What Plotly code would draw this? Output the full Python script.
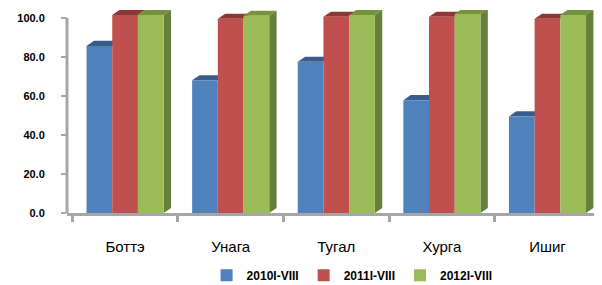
import plotly.graph_objects as go

categories = ["Боттэ", "Унага", "Тугал", "Хурга", "Ишиг"]
series_names = ["2010I-VIII", "2011I-VIII", "2012I-VIII"]
v2010 = [85.6, 68.0, 77.5, 57.8, 49.5]
v2011 = [101.5, 99.5, 100.5, 100.5, 99.5]
v2012 = [101.5, 101.0, 101.5, 102.0, 101.5]
y_ticks = [0, 20, 40, 60, 80, 100]

front = ["#4F81BD", "#C0504D", "#9BBB59"]
top_c = ["#385D8A", "#8C3836", "#76923C"]
side_c = ["#2E4D73", "#772C2A", "#65803A"]

series = [v2010, v2011, v2012]
bargap = 0.27
bw = (1 - bargap) / 3
dx, dy = 0.07, 2.6

fig = go.Figure()
for name, vals, col in zip(series_names, series, front):
    fig.add_trace(go.Bar(x=list(range(len(categories))), y=vals, name=name,
                         marker=dict(color=col, line=dict(width=0))))

shapes = []
for si, vals in enumerate(series):
    for ci, v in enumerate(vals):
        x0 = ci + (si - 1) * bw - bw / 2
        x1 = x0 + bw
        shapes.append(dict(type="path", layer="below", xref="x", yref="y",
                           path=f"M{x0},{v} L{x1},{v} L{x1+dx},{v+dy} L{x0+dx},{v+dy} Z",
                           fillcolor=top_c[si], line=dict(width=0)))
        if si == 2:
            shapes.append(dict(type="path", layer="below", xref="x", yref="y",
                               path=f"M{x1},0 L{x1},{v} L{x1+dx},{v+dy} L{x1+dx},{dy} Z",
                               fillcolor=side_c[si], line=dict(width=0)))

# y-axis wall line 0..100
shapes.append(dict(type="line", xref="paper", yref="y", x0=0, x1=0, y0=0, y1=100,
                   line=dict(color="#A6A6A6", width=3)))

fig.update_layout(
    width=594, height=277,
    margin=dict(l=59, r=7, t=2, b=72, autoexpand=False),
    paper_bgcolor="white", plot_bgcolor="white",
    barmode="group", bargap=bargap, bargroupgap=0,
    shapes=shapes,
    font=dict(family="Liberation Sans, Arial, sans-serif", color="black"),
    xaxis=dict(range=[-0.55, 4.45], tickmode="array",
               tickvals=list(range(len(categories))), ticktext=categories,
               showline=True, linecolor="#A6A6A6", linewidth=3,
               ticks="", showgrid=False, zeroline=False, automargin=False,
               minor=dict(ticks="outside", tick0=-0.5, dtick=1, ticklen=6,
                          tickcolor="#A6A6A6", tickwidth=3, showgrid=False),
               tickfont=dict(size=15), ticklabelstandoff=18),
    yaxis=dict(range=[0, 104], tickmode="array", tickvals=y_ticks,
               ticktext=[f"{t:.1f}" for t in y_ticks], automargin=False,
               showline=False, showgrid=False, zeroline=False,
               ticks="outside", ticklen=5, tickcolor="#A6A6A6", tickwidth=2,
               tickfont=dict(size=11, weight="bold"),
               ticklabelstandoff=14),
    legend=dict(orientation="h", x=0.54, xanchor="center", yref="container",
                y=0.035, yanchor="middle",
                font=dict(size=12, weight="bold"), traceorder="normal", itemwidth=30),
    showlegend=True,
)
fig.write_html("out.html")
